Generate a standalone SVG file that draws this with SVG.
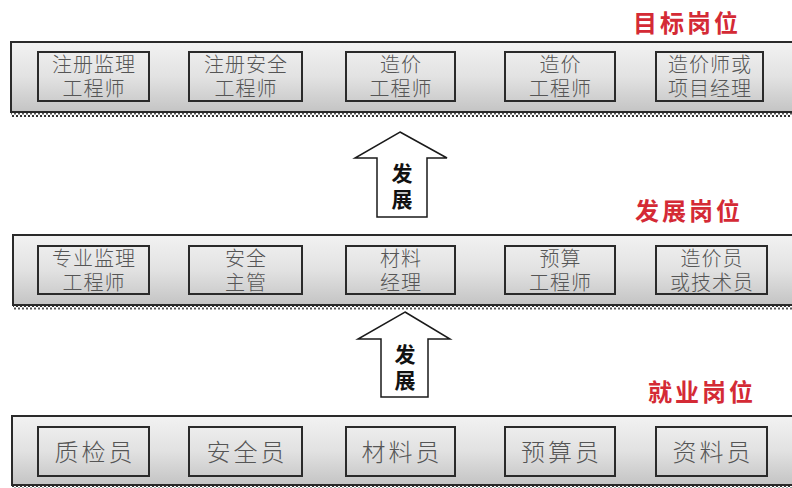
<svg xmlns="http://www.w3.org/2000/svg" width="792" height="488" viewBox="0 0 792 488">
<defs>
<linearGradient id="pg" x1="0" y1="0" x2="0" y2="1">
<stop offset="0" stop-color="#f2f2f2"/>
<stop offset="0.5" stop-color="#e2e2e2"/>
<stop offset="1" stop-color="#c4c4c4"/>
</linearGradient>
<pattern id="dots" width="4" height="5" patternUnits="userSpaceOnUse">
<rect width="4" height="5" fill="#ffffff"/>
<rect x="0" y="0" width="2" height="2" fill="#333"/>
<rect x="2" y="2.5" width="2" height="2" fill="#555"/>
</pattern>
</defs>
<style>
.panel{fill:url(#pg);stroke:#2a2a2a;stroke-width:2}
.band{fill:url(#dots)}
.box{fill:none;stroke:#2a2a2a;stroke-width:2}
.bt{font-family:"Noto Sans CJK SC","Noto Sans CJK TC",sans-serif;font-size:20px;fill:#555;text-anchor:middle;font-weight:300;letter-spacing:1px}
.bt1{font-family:"Noto Sans CJK SC","Noto Sans CJK TC",sans-serif;font-size:24px;fill:#555;text-anchor:middle;font-weight:300;letter-spacing:3px}
.title{font-family:"Noto Sans CJK SC","Noto Sans CJK TC",sans-serif;font-size:24px;fill:#d42a35;font-weight:bold;letter-spacing:3px}
.arrow{fill:#ffffff;stroke:#1a1a1a;stroke-width:1.5}
.at{font-family:"Noto Sans CJK SC","Noto Sans CJK TC",sans-serif;font-size:21px;fill:#111;text-anchor:middle;font-weight:bold}
</style>
<rect width="792" height="488" fill="#ffffff"/>

<g id="title-target"><text class="title" x="633" y="32">目标岗位</text></g>
<g id="title-develop"><text class="title" x="635" y="220">发展岗位</text></g>
<g id="title-entry"><text class="title" x="648" y="401">就业岗位</text></g>

<g id="panel-top">
<rect class="band" x="11" y="112" width="781" height="5"/>
<rect class="panel" x="11" y="42" width="790" height="70"/>
</g>
<g id="panel-mid">
<rect class="band" x="13" y="305" width="779" height="5"/>
<rect class="panel" x="13" y="235" width="790" height="70"/>
</g>
<g id="panel-bottom">
<rect class="band" x="12" y="485" width="780" height="3"/>
<rect class="panel" x="12" y="416" width="790" height="69"/>
</g>

<g id="t1"><rect class="box" x="38" y="52" width="111" height="49"/><text class="bt" x="94" y="72">注册监理</text><text class="bt" x="94" y="96">工程师</text></g>
<g id="t2"><rect class="box" x="189" y="52" width="113" height="49"/><text class="bt" x="246" y="72">注册安全</text><text class="bt" x="246" y="96">工程师</text></g>
<g id="t3"><rect class="box" x="346" y="52" width="109" height="49"/><text class="bt" x="401" y="72">造价</text><text class="bt" x="401" y="96">工程师</text></g>
<g id="t4"><rect class="box" x="505" y="52" width="110" height="49"/><text class="bt" x="560.5" y="72">造价</text><text class="bt" x="560.5" y="96">工程师</text></g>
<g id="t5"><rect class="box" x="656" y="52" width="107" height="49"/><text class="bt" x="710" y="72">造价师或</text><text class="bt" x="710" y="96">项目经理</text></g>

<g id="m1"><rect class="box" x="38" y="246" width="111" height="48"/><text class="bt" x="94" y="266">专业监理</text><text class="bt" x="94" y="290">工程师</text></g>
<g id="m2"><rect class="box" x="189" y="246" width="113" height="48"/><text class="bt" x="246" y="266">安全</text><text class="bt" x="246" y="290">主管</text></g>
<g id="m3"><rect class="box" x="346" y="246" width="109" height="48"/><text class="bt" x="401" y="266">材料</text><text class="bt" x="401" y="290">经理</text></g>
<g id="m4"><rect class="box" x="505" y="246" width="110" height="48"/><text class="bt" x="560.5" y="266">预算</text><text class="bt" x="560.5" y="290">工程师</text></g>
<g id="m5"><rect class="box" x="656" y="246" width="111" height="48"/><text class="bt" x="712" y="266">造价员</text><text class="bt" x="712" y="290">或技术员</text></g>

<g id="b1"><rect class="box" x="38" y="427" width="111" height="49"/><text class="bt1" x="95" y="461">质检员</text></g>
<g id="b2"><rect class="box" x="189" y="427" width="113" height="49"/><text class="bt1" x="247" y="461">安全员</text></g>
<g id="b3"><rect class="box" x="346" y="427" width="109" height="49"/><text class="bt1" x="402" y="461">材料员</text></g>
<g id="b4"><rect class="box" x="505" y="427" width="110" height="49"/><text class="bt1" x="561.5" y="461">预算员</text></g>
<g id="b5"><rect class="box" x="656" y="427" width="111" height="49"/><text class="bt1" x="713" y="461">资料员</text></g>

<g id="connectors">
<g id="arrow-upper">
<path class="arrow" d="M400,132 L447,158 L427,158 L427,217 L377,217 L377,158 L355,158 Z"/>
<text class="at" x="402" y="181">发</text>
<text class="at" x="402" y="207">展</text>
</g>
<g id="arrow-lower">
<path class="arrow" d="M405,312 L450,339 L428,339 L428,397 L381,397 L381,339 L358,339 Z"/>
<text class="at" x="405" y="362">发</text>
<text class="at" x="405" y="388">展</text>
</g>
</g>
</svg>
